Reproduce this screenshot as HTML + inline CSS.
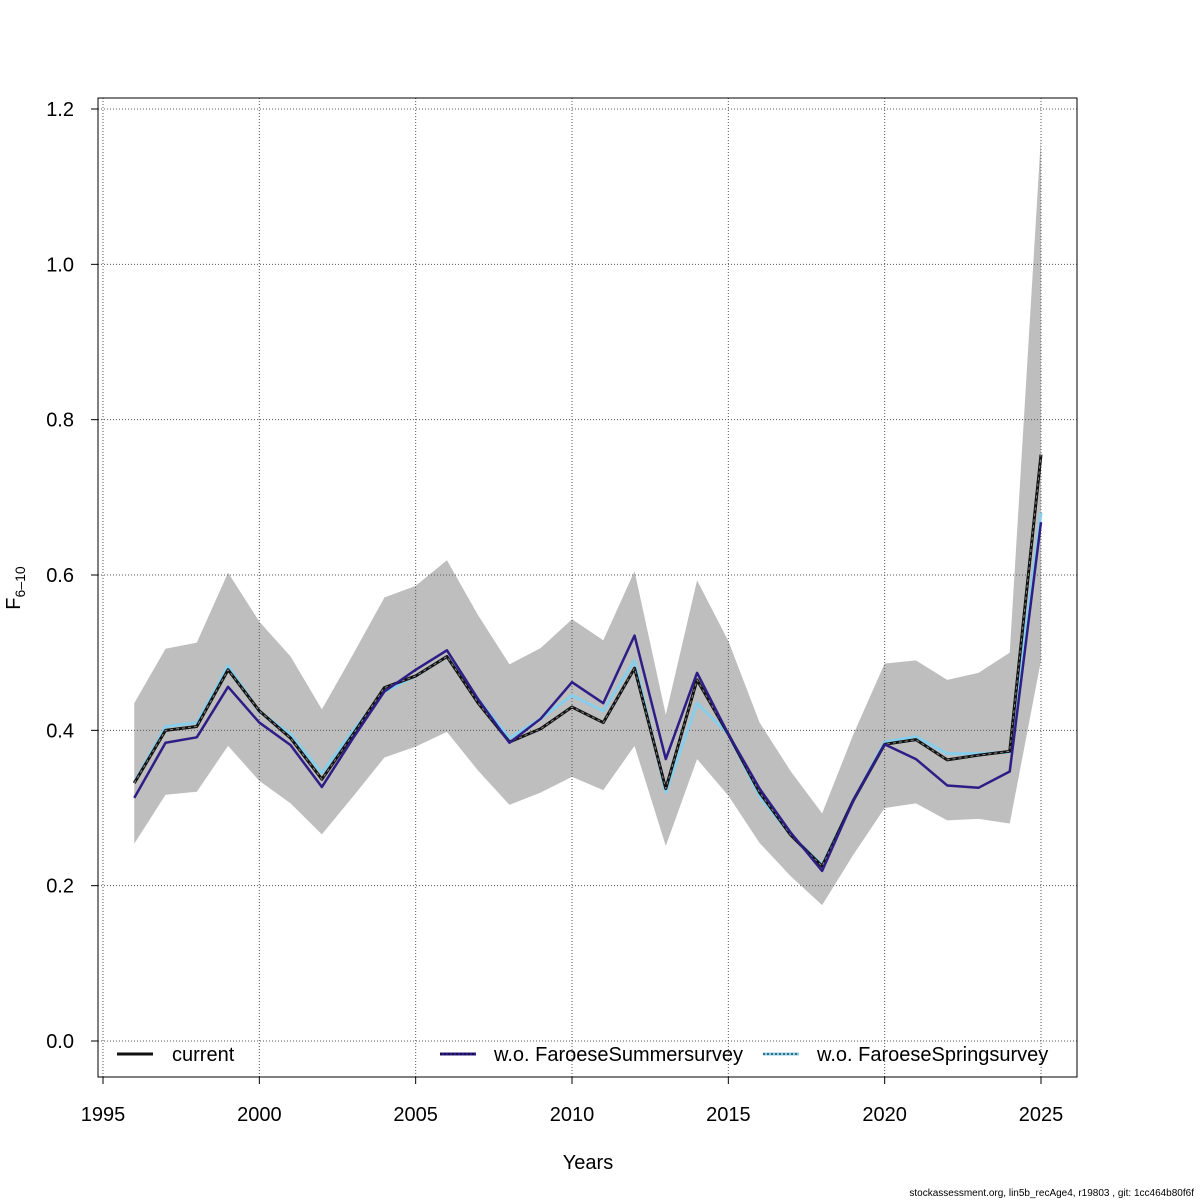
<!DOCTYPE html>
<html><head><meta charset="utf-8"><style>
body{margin:0;background:#fff;}
svg{display:block;font-family:"Liberation Sans",sans-serif;}
</style></head><body>
<svg id="chart" width="1200" height="1200" viewBox="0 0 1200 1200"></svg>
<script>
const years=[1996,1997,1998,1999,2000,2001,2002,2003,2004,2005,2006,2007,2008,2009,2010,2011,2012,2013,2014,2015,2016,2017,2018,2019,2020,2021,2022,2023,2024,2025];
const currentF=[0.332,0.400,0.405,0.478,0.425,0.390,0.337,0.395,0.455,0.470,0.495,0.435,0.385,0.402,0.430,0.410,0.480,0.325,0.465,0.395,0.320,0.265,0.225,0.310,0.382,0.388,0.362,0.368,0.373,0.755];
const summerF=[0.313,0.384,0.391,0.456,0.410,0.381,0.327,0.390,0.450,0.478,0.503,0.440,0.384,0.415,0.462,0.435,0.522,0.363,0.474,0.395,0.325,0.268,0.219,0.310,0.382,0.363,0.329,0.326,0.347,0.668];
const springF=[0.333,0.405,0.410,0.483,0.424,0.395,0.345,0.400,0.450,0.470,0.495,0.440,0.390,0.415,0.445,0.425,0.490,0.320,0.435,0.395,0.315,0.265,0.227,0.310,0.385,0.392,0.370,0.370,0.372,0.680];
const upperCI=[0.435,0.505,0.513,0.603,0.540,0.495,0.427,0.498,0.571,0.586,0.619,0.548,0.485,0.506,0.543,0.516,0.605,0.420,0.593,0.515,0.410,0.347,0.293,0.395,0.486,0.490,0.465,0.474,0.500,1.165];
const lowerCI=[0.254,0.317,0.321,0.380,0.335,0.306,0.266,0.315,0.365,0.379,0.398,0.348,0.304,0.320,0.340,0.323,0.380,0.251,0.363,0.316,0.255,0.212,0.175,0.240,0.300,0.306,0.284,0.286,0.280,0.490];
const xTicks=[1995,2000,2005,2010,2015,2020,2025];
const yTicks=[0.0,0.2,0.4,0.6,0.8,1.0,1.2];

const NS="http://www.w3.org/2000/svg";
const svg=document.getElementById('chart');
const X=v=>103+(v-1995)*(1041-103)/30;
const Y=v=>1041-v*(1041-109)/1.2;
function mk(t,a,p){const e=document.createElementNS(NS,t);for(const k in a)e.setAttribute(k,a[k]);(p||svg).appendChild(e);return e;}

const pts=years.map((y,i)=>X(y)+','+Y(upperCI[i])).concat(years.map((y,i)=>X(y)+','+Y(lowerCI[i])).reverse());
const band=mk('polygon',{points:pts.join(' '),fill:'#bebebe'});



xTicks.forEach(t=>{const g=mk('line',{x1:X(t),x2:X(t),y1:98,y2:1077,stroke:'#555','stroke-dasharray':'1,2','stroke-width':1});

});
yTicks.forEach(t=>{const g=mk('line',{x1:98,x2:1077,y1:Y(t),y2:Y(t),stroke:'#555','stroke-dasharray':'1,2','stroke-width':1});

});

function line(vals,attrs,name){const l=mk('polyline',Object.assign({points:years.map((y,i)=>X(y)+','+Y(vals[i])).join(' '),fill:'none','stroke-linejoin':'round'},attrs));

return l;}
line(springF,{stroke:'#87ceeb','stroke-width':3},'series-spring');
line(currentF,{stroke:'#111','stroke-width':3},'series-current');
line(currentF,{stroke:'#888','stroke-width':1,'stroke-dasharray':'3,3'},'series-current-dash');
line(summerF,{stroke:'#2e1d86','stroke-width':2.5},'series-summer');

const box=mk('rect',{x:98,y:98,width:979,height:979,fill:'none',stroke:'#000','stroke-width':1});



mk('line',{x1:X(1995),x2:X(2025),y1:1077,y2:1077,stroke:'#000'});
xTicks.forEach(t=>{mk('line',{x1:X(t),x2:X(t),y1:1077,y2:1084,stroke:'#000'});
const tx=mk('text',{x:X(t),y:1121,'text-anchor':'middle','font-size':20});tx.textContent=t;

});
yTicks.forEach(t=>{mk('line',{x1:91,x2:98,y1:Y(t),y2:Y(t),stroke:'#000'});
const tx=mk('text',{x:74,y:Y(t)+7,'text-anchor':'end','font-size':20});tx.textContent=t.toFixed(1);

});
const xt=mk('text',{x:588,y:1169,'text-anchor':'middle','font-size':20});xt.textContent='Years';


const yt=mk('text',{x:20,y:588,'text-anchor':'middle','font-size':20,transform:'rotate(-90 20 588)'});
yt.innerHTML='F<tspan font-size="14" dy="5">6\u201310</tspan>';



const leg=[[117,172,'current','#111',null],[440,494,'w.o. FaroeseSummersurvey','#2e1d86','#000'],[763,817,'w.o. FaroeseSpringsurvey','#87ceeb','#000']];
leg.forEach(l=>{const g=mk('g',{});


mk('line',{x1:l[0],x2:l[0]+36,y1:1054,y2:1054,stroke:l[3],'stroke-width':3},g);
if(l[4])mk('line',{x1:l[0],x2:l[0]+36,y1:1054,y2:1054,stroke:l[4],'stroke-width':1,'stroke-dasharray':'2,2'},g);
const t=mk('text',{x:l[1],y:1061,'font-size':20},g);t.textContent=l[2];});

const foot=mk('text',{x:1194,y:1196,'text-anchor':'end','font-size':10});
foot.textContent='stockassessment.org, lin5b_recAge4, r19803 , git: 1cc464b80f6f';


</script>
</body></html>
